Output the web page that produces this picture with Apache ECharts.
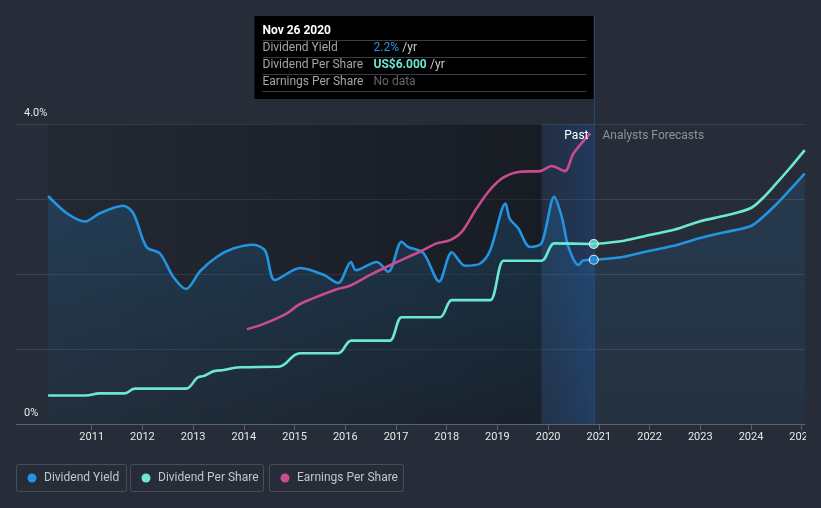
<!DOCTYPE html>
<html><head><meta charset="utf-8">
<script src="https://cdn.jsdelivr.net/npm/echarts@6/dist/echarts.min.js"></script>
<style>html,body{margin:0;padding:0;background:#262c38;overflow:hidden}#c{width:806px;height:508px}</style>
</head><body><div id="c"></div>
<script>
// ---- data ----
const xTickYears = [2011,2012,2013,2014,2015,2016,2017,2018,2019,2020,2021,2022,2023,2024,2025];
const yTickLabels = ['0%', '4.0%'];

// past (history)
const yieldYears  = [2010.14,2010.51,2010.87,2011.16,2011.62,2011.82,2012.08,2012.35,2012.61,2012.86,2013.14,2013.47,2013.79,2014.19,2014.42,2014.61,2015.11,2015.57,2015.86,2016.11,2016.21,2016.62,2016.85,2017.11,2017.24,2017.54,2017.85,2018.10,2018.36,2018.66,2018.86,2019.16,2019.24,2019.41,2019.64,2019.87,2020.12,2020.27,2020.40,2020.60,2020.69,2020.90];
const yieldValues = [3.04,2.81,2.70,2.81,2.91,2.81,2.36,2.27,1.96,1.80,2.04,2.23,2.34,2.39,2.31,1.92,2.08,1.99,1.88,2.16,2.05,2.16,2.03,2.43,2.36,2.28,1.90,2.29,2.11,2.14,2.32,2.94,2.74,2.61,2.36,2.41,3.03,2.76,2.36,2.12,2.18,2.19];

const dpsYears  = [2010.14,2010.87,2011.16,2011.65,2011.85,2012.86,2013.14,2013.47,2013.93,2014.68,2015.11,2015.86,2016.12,2016.88,2017.11,2017.87,2018.10,2018.86,2019.12,2019.87,2020.12,2020.90];
const dpsValues = [0.95,0.95,1.02,1.02,1.18,1.18,1.58,1.78,1.89,1.91,2.36,2.36,2.78,2.78,3.56,3.56,4.13,4.13,5.44,5.44,6.02,6.00];

const epsYears  = [2014.06,2014.38,2014.85,2015.11,2015.83,2016.09,2016.49,2017.01,2017.47,2017.80,2018.07,2018.30,2018.59,2018.85,2019.12,2019.45,2019.84,2020.07,2020.33,2020.50,2020.83];
const epsValues = [3.16,3.33,3.69,4.00,4.49,4.61,4.97,5.39,5.74,6.02,6.13,6.41,7.19,7.80,8.22,8.41,8.43,8.60,8.43,9.02,9.69];

// analysts forecasts
const forecastYears      = [2020.90,2021.50,2022.00,2022.50,2023.00,2023.50,2024.00,2024.25,2024.50,2024.75,2025.06];
const yieldForecastValues = [2.19,2.23,2.31,2.38,2.48,2.56,2.64,2.77,2.93,3.11,3.34];
const dpsForecastValues   = [6.00,6.11,6.30,6.48,6.76,6.95,7.20,7.56,8.02,8.50,9.13];

const cursorYear = 2020.9;
const cursorYield = 2.19;
const cursorDps = 6.0;
const pastStart = 2010.14;
const lastYearStart = 2019.87;

const C_YIELD = '#2394e0', C_DPS = '#6de8d0', C_EPS = '#c94c90';
const FONT = 'Roboto, "Noto Sans", sans-serif';

const zip = (a, b) => a.map((v, i) => [v, b[i]]);
const yieldArea = {color: {type: 'linear', x: 0, y: 0, x2: 0, y2: 1,
  colorStops: [{offset: 0, color: 'rgba(35,148,224,0.28)'}, {offset: 1, color: 'rgba(35,148,224,0.07)'}]}};
const fcArea = {color: {type: 'linear', x: 0, y: 0, x2: 0, y2: 1,
  colorStops: [{offset: 0, color: 'rgba(35,148,224,0.20)'}, {offset: 1, color: 'rgba(35,148,224,0.07)'}]}};

const chart = echarts.init(document.getElementById('c'), null, {renderer: 'canvas'});
chart.setOption({
  animation: false,
  backgroundColor: '#262c38',
  textStyle: {fontFamily: FONT},
  grid: {left: 16, right: 1, top: 124, bottom: 84, containLabel: false, outerBoundsMode: 'none'},
  xAxis: {
    type: 'value', min: 2009.507, max: 2025.065,
    splitLine: {show: false},
    axisLine: {lineStyle: {color: '#5b616c', width: 1}},
    axisTick: {customValues: xTickYears, length: 6, lineStyle: {color: '#5b616c'}},
    axisLabel: {customValues: xTickYears, color: '#e8e8e8', fontSize: 11, margin: 8, fontFamily: FONT,
      hideOverlap: false, formatter: v => String(Math.round(v))}
  },
  yAxis: [{
    type: 'value', min: 0, max: 4, interval: 1,
    axisLine: {show: false}, axisTick: {show: false},
    splitLine: {lineStyle: {color: '#3b424e', width: 1}},
    axisLabel: {customValues: [0, 4], inside: true, margin: 8, verticalAlign: 'bottom', padding: [0,0,5,0],
      color: '#e8e8e8', fontSize: 11, fontFamily: FONT,
      formatter: v => v === 4 ? yTickLabels[1] : yTickLabels[0]}
  }, {
    type: 'value', min: 0, max: 10, show: false
  }],
  series: [
    {
      type: 'line', data: [], z: 1, silent: true,
      markArea: {silent: true, data: [
        [{xAxis: pastStart, itemStyle: {color: {type: 'linear', x: 0, y: 0, x2: 1, y2: 0,
          colorStops: [{offset: 0, color: 'rgba(0,0,0,0.08)'}, {offset: 1, color: 'rgba(0,0,0,0.38)'}]}}},
         {xAxis: lastYearStart}],
        [{xAxis: lastYearStart, itemStyle: {color: {type: 'linear', x: 0, y: 0, x2: 1, y2: 0,
          colorStops: [{offset: 0, color: 'rgba(20,60,125,0.16)'}, {offset: 1, color: 'rgba(25,85,170,0.33)'}]}}},
         {xAxis: cursorYear}]
      ]}
    },
    {
      name: 'Dividend Yield', type: 'line', yAxisIndex: 0, z: 3,
      data: zip(yieldYears, yieldValues), smooth: 0.3, symbol: 'none',
      lineStyle: {color: C_YIELD, width: 2.6}, areaStyle: yieldArea
    },
    {
      name: 'Dividend Yield', type: 'line', yAxisIndex: 0, z: 3,
      data: zip(forecastYears, yieldForecastValues), smooth: 0.3, symbol: 'none',
      lineStyle: {color: C_YIELD, width: 2.6}, areaStyle: fcArea
    },
    {
      name: 'Dividend Per Share', type: 'line', yAxisIndex: 1, z: 4,
      data: zip(dpsYears, dpsValues), smooth: 0.45, smoothMonotone: 'x', symbol: 'none',
      lineStyle: {color: C_DPS, width: 2.6}
    },
    {
      name: 'Dividend Per Share', type: 'line', yAxisIndex: 1, z: 4,
      data: zip(forecastYears, dpsForecastValues), smooth: 0.3, symbol: 'none',
      lineStyle: {color: C_DPS, width: 2.6}
    },
    {
      name: 'Earnings Per Share', type: 'line', yAxisIndex: 1, z: 4,
      data: zip(epsYears, epsValues), smooth: 0.3, symbol: 'none',
      lineStyle: {color: C_EPS, width: 2.6}
    },
    {
      type: 'scatter', yAxisIndex: 0, z: 6, data: [[cursorYear, cursorYield]], symbolSize: 9,
      itemStyle: {color: C_YIELD, borderColor: '#ffffff', borderWidth: 1.2}
    },
    {
      type: 'scatter', yAxisIndex: 1, z: 6, data: [[cursorYear, cursorDps]], symbolSize: 9,
      itemStyle: {color: C_DPS, borderColor: '#ffffff', borderWidth: 1.2}
    }
  ]
});

// decorations positioned from the axis scale
const cx = Math.round(chart.convertToPixel({xAxisIndex: 0}, cursorYear)) + 0.5;
const yTop = chart.convertToPixel({yAxisIndex: 0}, 4);
const yBot = chart.convertToPixel({yAxisIndex: 0}, 0);
const boxW = 340, boxL = cx - boxW, boxT = 16, boxH = 83;
const rowX = boxL + 8, valX = boxL + 119;
const sepColor = '#3a3d42';
const legendItems = [
  {name: 'Dividend Yield', color: C_YIELD, x: 16, w: 110},
  {name: 'Dividend Per Share', color: C_DPS, x: 130, w: 133},
  {name: 'Earnings Per Share', color: C_EPS, x: 269, w: 134}
];
const g = [
  {type: 'line', shape: {x1: cx, y1: boxT, x2: cx, y2: yBot}, style: {stroke: '#24486f', lineWidth: 1}, z: 5},
  {type: 'rect', shape: {x: boxL, y: boxT, width: boxW - 1, height: boxH}, style: {fill: '#000000'}, z: 10},
  {type: 'text', x: rowX, y: boxT + 15, style: {text: 'Nov 26 2020', fill: '#ffffff', font: 'bold 12px ' + FONT, verticalAlign: 'middle'}, z: 11},
  {type: 'text', x: rowX, y: boxT + 32, style: {text: 'Dividend Yield', fill: '#a3a6ab', font: '12px ' + FONT, verticalAlign: 'middle'}, z: 11},
  {type: 'text', x: rowX, y: boxT + 49, style: {text: 'Dividend Per Share', fill: '#a3a6ab', font: '12px ' + FONT, verticalAlign: 'middle'}, z: 11},
  {type: 'text', x: rowX, y: boxT + 66, style: {text: 'Earnings Per Share', fill: '#a3a6ab', font: '12px ' + FONT, verticalAlign: 'middle'}, z: 11},
  {type: 'text', x: valX, y: boxT + 32, style: {text: '{v|2.2%} {u|/yr}', verticalAlign: 'middle',
    rich: {v: {fill: C_YIELD, font: '12px ' + FONT}, u: {fill: '#c8cacd', font: '12px ' + FONT}}}, z: 11},
  {type: 'text', x: valX, y: boxT + 49, style: {text: '{v|US$6.000} {u|/yr}', verticalAlign: 'middle',
    rich: {v: {fill: C_DPS, font: 'bold 12px ' + FONT}, u: {fill: '#c8cacd', font: '12px ' + FONT}}}, z: 11},
  {type: 'text', x: valX, y: boxT + 66, style: {text: 'No data', fill: '#63666b', font: '12px ' + FONT, verticalAlign: 'middle'}, z: 11},
  {type: 'text', x: cx - 6, y: yTop + 12, style: {text: 'Past', fill: '#ffffff', font: '12px ' + FONT, align: 'right', verticalAlign: 'middle'}, z: 7},
  {type: 'text', x: cx + 8, y: yTop + 12, style: {text: 'Analysts Forecasts', fill: '#8d929b', font: '12px ' + FONT, align: 'left', verticalAlign: 'middle'}, z: 7}
];
[24, 41, 58, 75].forEach(dy => g.push({type: 'line', shape: {x1: rowX, y1: boxT + dy + 0.5, x2: cx - 8, y2: boxT + dy + 0.5}, style: {stroke: sepColor, lineWidth: 1}, z: 11}));
legendItems.forEach(it => {
  g.push({type: 'rect', shape: {x: it.x + 0.5, y: 464.5, width: it.w, height: 27, r: 2}, style: {fill: 'none', stroke: '#484e5a', lineWidth: 1}, z: 10});
  g.push({type: 'circle', shape: {cx: it.x + 16, cy: 478, r: 4.5}, style: {fill: it.color}, z: 11});
  g.push({type: 'text', x: it.x + 28, y: 478, style: {text: it.name, fill: '#c3c6cc', font: '12px ' + FONT, verticalAlign: 'middle'}, z: 11});
});
chart.setOption({graphic: g});
</script></body></html>
